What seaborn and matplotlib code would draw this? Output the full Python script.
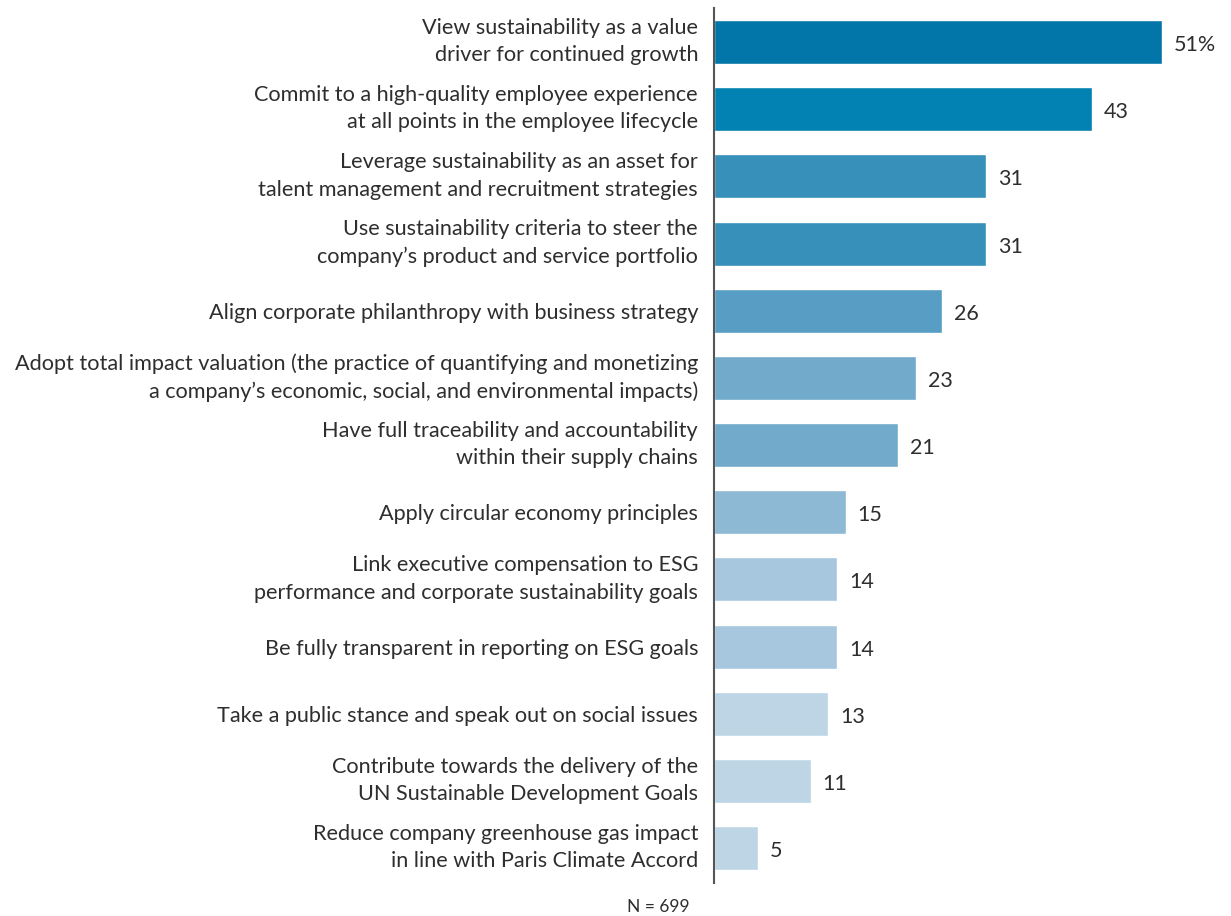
import matplotlib
matplotlib.use("Agg")
import matplotlib.pyplot as plt
import matplotlib.transforms as mtransforms
import seaborn as sns
import pandas as pd

categories = [
    "View sustainability as a value\ndriver for continued growth",
    "Commit to a high-quality employee experience\nat all points in the employee lifecycle",
    "Leverage sustainability as an asset for\ntalent management and recruitment strategies",
    "Use sustainability criteria to steer the\ncompany\u2019s product and service portfolio",
    "Align corporate philanthropy with business strategy",
    "Adopt total impact valuation (the practice of quantifying and monetizing\na company\u2019s economic, social, and environmental impacts)",
    "Have full traceability and accountability\nwithin their supply chains",
    "Apply circular economy principles",
    "Link executive compensation to ESG\nperformance and corporate sustainability goals",
    "Be fully transparent in reporting on ESG goals",
    "Take a public stance and speak out on social issues",
    "Contribute towards the delivery of the\nUN Sustainable Development Goals",
    "Reduce company greenhouse gas impact\nin line with Paris Climate Accord",
]
values = [51, 43, 31, 31, 26, 23, 21, 15, 14, 14, 13, 11, 5]
value_labels = ["51%", "43", "31", "31", "26", "23", "21", "15", "14", "14", "13", "11", "5"]
bar_colors = [
    "#0276A8", "#0281B3", "#3690BA", "#3690BA", "#589EC4", "#72AACC", "#72AACC",
    "#8DB9D5", "#A7C7DF", "#A7C7DF", "#BDD5E5", "#BDD5E5", "#BDD5E5",
]

sns.set_theme(style="white")
plt.rcParams["font.family"] = ["Lato", "DejaVu Sans"]

df = pd.DataFrame({"item": categories, "pct": values})

fig = plt.figure(figsize=(12.31, 9.16), dpi=100)
ax = fig.add_axes([714 / 1231, 1 - 883 / 916, 1 - 714 / 1231, 875 / 916])

sns.barplot(
    data=df, x="pct", y="item", hue="item", palette=bar_colors,
    legend=False, width=0.655, saturation=1, ax=ax, orient="h",
)

ax.set_xlim(0, (1231 - 714) / 8.78)
ax.set_ylim(12.52, -0.506)

for i, (v, lab) in enumerate(zip(values, value_labels)):
    ax.annotate(lab, xy=(v, i), xytext=(12, -3), textcoords="offset pixels",
                va="center", ha="left", fontsize=15.5, color="#2e2e2e")

ax.set_xlabel("")
ax.set_ylabel("")
ax.set_xticks([])
ax.tick_params(axis="y", length=0, pad=11.5, labelsize=15.6, labelcolor="#2e2e2e")

# two-line labels sit a little higher so the block centres on its bar
lift = mtransforms.ScaledTranslation(0, 6 / 100, fig.dpi_scale_trans)
for t in ax.get_yticklabels():
    t.set_multialignment("right")
    t.set_linespacing(1.45)
    if "\n" in t.get_text():
        t.set_transform(t.get_transform() + lift)

for s in ["top", "right", "bottom"]:
    ax.spines[s].set_visible(False)
ax.spines["left"].set_color("#555555")
ax.spines["left"].set_linewidth(1.5)

fig.text(658 / 1231, 1 - 907 / 916, "N = 699", ha="center", va="center",
         fontsize=12.5, color="#2e2e2e")

fig.savefig("out.png", dpi=100, facecolor="white")
